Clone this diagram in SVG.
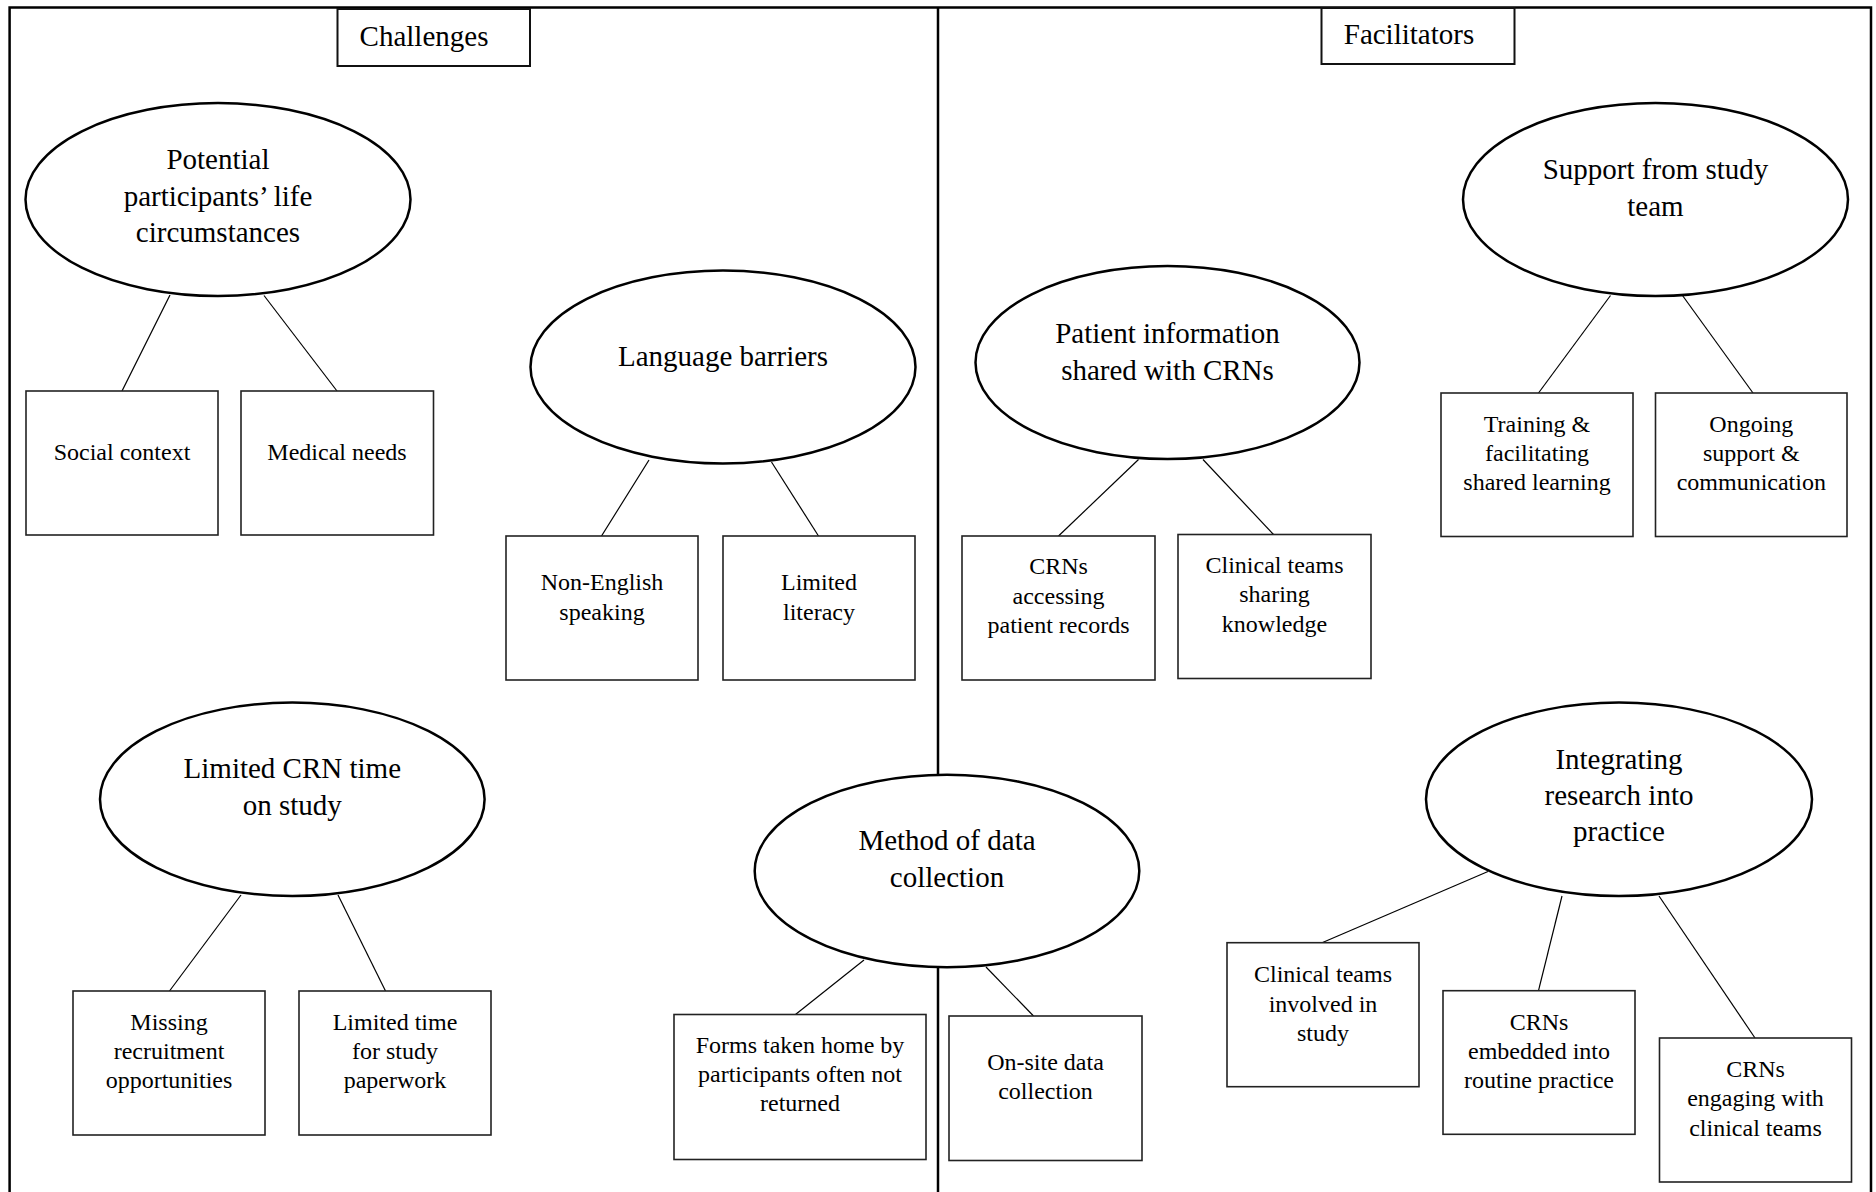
<svg xmlns="http://www.w3.org/2000/svg" width="1876" height="1192" viewBox="0 0 1876 1192">
<style>
text{font-family:"Liberation Serif","Times New Roman",serif;fill:#000;text-anchor:middle}
.t{font-size:29px}
.b{font-size:24px}
.el{fill:#fff;stroke:#000;stroke-width:2.5}
.bx{fill:#fff;stroke:#222;stroke-width:1.6}
.hd{fill:#fff;stroke:#111;stroke-width:2}
.fr{fill:none;stroke:#000;stroke-width:2.5}
.cn line{stroke:#000;stroke-width:1.2}
</style>
<rect width="1876" height="1192" fill="#fff"/>
<g id="frame">
<path class="fr" d="M9.6,1192 V7.5 H1871 V1192"/>
<line class="fr" x1="938" y1="7.5" x2="938" y2="776"/>
<line class="fr" x1="938" y1="966" x2="938" y2="1192"/>
</g>
<g id="connectors" class="cn">
<line x1="170" y1="295" x2="122" y2="391"/>
<line x1="264" y1="295.5" x2="337" y2="391"/>
<line x1="649" y1="460" x2="601.5" y2="536"/>
<line x1="771.5" y1="462" x2="818.5" y2="536"/>
<line x1="1138.5" y1="459.5" x2="1058.5" y2="536"/>
<line x1="1203" y1="459.5" x2="1273.5" y2="534.5"/>
<line x1="1610.5" y1="295.5" x2="1538.5" y2="393"/>
<line x1="1682.5" y1="295.5" x2="1753" y2="393"/>
<line x1="241" y1="895" x2="169.5" y2="991"/>
<line x1="338" y1="895" x2="385.5" y2="991"/>
<line x1="864" y1="960" x2="795.5" y2="1014.5"/>
<line x1="986" y1="967" x2="1033.5" y2="1016"/>
<line x1="1488" y1="871.5" x2="1322" y2="942.7"/>
<line x1="1562" y1="896" x2="1538.5" y2="990.7"/>
<line x1="1659" y1="896" x2="1755" y2="1038"/>
</g>
<g id="challenges">
<rect class="hd" x="337.5" y="9" width="192.5" height="57"/>
<text class="t" x="424" y="45.5">Challenges</text>
</g>
<g id="facilitators">
<rect class="hd" x="1321.5" y="8" width="193" height="56"/>
<text class="t" x="1409" y="43.5">Facilitators</text>
</g>
<g id="life-circumstances">
<ellipse class="el" cx="218" cy="199.5" rx="192.5" ry="96.5"/>
<text class="t" x="218" y="169">Potential</text>
<text class="t" x="218" y="205.5">participants’ life</text>
<text class="t" x="218" y="242">circumstances</text>
</g>
<g id="language-barriers">
<ellipse class="el" cx="723" cy="367" rx="192.5" ry="96.5"/>
<text class="t" x="723" y="366">Language barriers</text>
</g>
<g id="patient-information">
<ellipse class="el" cx="1167.5" cy="362.5" rx="192" ry="96.5"/>
<text class="t" x="1167.5" y="343">Patient information</text>
<text class="t" x="1167.5" y="379.5">shared with CRNs</text>
</g>
<g id="support-study-team">
<ellipse class="el" cx="1655.5" cy="199.5" rx="192.5" ry="96.5"/>
<text class="t" x="1655.5" y="178.5">Support from study</text>
<text class="t" x="1655.5" y="215.5">team</text>
</g>
<g id="limited-crn-time">
<ellipse class="el" cx="292.3" cy="799.3" rx="192.3" ry="96.7"/>
<text class="t" x="292.3" y="778">Limited CRN time</text>
<text class="t" x="292.3" y="815">on study</text>
</g>
<g id="method-data-collection">
<ellipse class="el" cx="947" cy="871" rx="192.3" ry="96.2"/>
<text class="t" x="947" y="850">Method of data</text>
<text class="t" x="947" y="887">collection</text>
</g>
<g id="integrating-research">
<ellipse class="el" cx="1619" cy="799.3" rx="193" ry="96.7"/>
<text class="t" x="1619" y="768.5">Integrating</text>
<text class="t" x="1619" y="804.5">research into</text>
<text class="t" x="1619" y="840.5">practice</text>
</g>
<g id="social-context">
<rect class="bx" x="26" y="391" width="192" height="144"/>
<text class="b" x="122" y="460">Social context</text>
</g>
<g id="medical-needs">
<rect class="bx" x="241" y="391" width="192.5" height="144"/>
<text class="b" x="337" y="460">Medical needs</text>
</g>
<g id="non-english">
<rect class="bx" x="506" y="536" width="192" height="144"/>
<text class="b" x="602" y="589.5">Non-English</text>
<text class="b" x="602" y="619.5">speaking</text>
</g>
<g id="limited-literacy">
<rect class="bx" x="723" y="536" width="192" height="144"/>
<text class="b" x="819" y="589.5">Limited</text>
<text class="b" x="819" y="619.5">literacy</text>
</g>
<g id="crns-accessing">
<rect class="bx" x="962" y="536" width="193" height="144"/>
<text class="b" x="1058.5" y="574">CRNs</text>
<text class="b" x="1058.5" y="603.5">accessing</text>
<text class="b" x="1058.5" y="633">patient records</text>
</g>
<g id="clinical-sharing">
<rect class="bx" x="1178" y="534.5" width="193" height="144"/>
<text class="b" x="1274.5" y="573">Clinical teams</text>
<text class="b" x="1274.5" y="602">sharing</text>
<text class="b" x="1274.5" y="631.5">knowledge</text>
</g>
<g id="training">
<rect class="bx" x="1441" y="393" width="192" height="143.5"/>
<text class="b" x="1537" y="432">Training &amp;</text>
<text class="b" x="1537" y="461">facilitating</text>
<text class="b" x="1537" y="490">shared learning</text>
</g>
<g id="ongoing-support">
<rect class="bx" x="1655.5" y="393" width="191.5" height="143.5"/>
<text class="b" x="1751.3" y="432">Ongoing</text>
<text class="b" x="1751.3" y="461">support &amp;</text>
<text class="b" x="1751.3" y="490">communication</text>
</g>
<g id="missing-recruitment">
<rect class="bx" x="73" y="991" width="192" height="144"/>
<text class="b" x="169" y="1030">Missing</text>
<text class="b" x="169" y="1059">recruitment</text>
<text class="b" x="169" y="1088">opportunities</text>
</g>
<g id="limited-time-paperwork">
<rect class="bx" x="299" y="991" width="192" height="144"/>
<text class="b" x="395" y="1030">Limited time</text>
<text class="b" x="395" y="1059">for study</text>
<text class="b" x="395" y="1088">paperwork</text>
</g>
<g id="forms-taken-home">
<rect class="bx" x="674" y="1014.5" width="252" height="145"/>
<text class="b" x="800" y="1053">Forms taken home by</text>
<text class="b" x="800" y="1082">participants often not</text>
<text class="b" x="800" y="1111">returned</text>
</g>
<g id="on-site">
<rect class="bx" x="949" y="1016" width="193" height="144.5"/>
<text class="b" x="1045.5" y="1070">On-site data</text>
<text class="b" x="1045.5" y="1099">collection</text>
</g>
<g id="clinical-involved">
<rect class="bx" x="1227" y="942.7" width="192" height="144"/>
<text class="b" x="1323" y="982">Clinical teams</text>
<text class="b" x="1323" y="1011.5">involved in</text>
<text class="b" x="1323" y="1040.5">study</text>
</g>
<g id="crns-embedded">
<rect class="bx" x="1443" y="990.7" width="192" height="143.6"/>
<text class="b" x="1539" y="1029.5">CRNs</text>
<text class="b" x="1539" y="1058.5">embedded into</text>
<text class="b" x="1539" y="1088">routine practice</text>
</g>
<g id="crns-engaging">
<rect class="bx" x="1659.5" y="1038" width="192" height="144"/>
<text class="b" x="1755.5" y="1077">CRNs</text>
<text class="b" x="1755.5" y="1106">engaging with</text>
<text class="b" x="1755.5" y="1136">clinical teams</text>
</g>
</svg>
